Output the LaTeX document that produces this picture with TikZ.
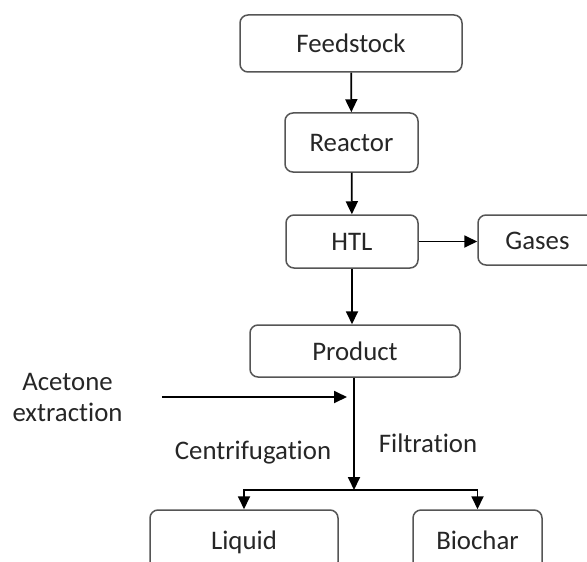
\documentclass[tikz,border=0pt]{standalone}
\usepackage{fontspec}
\setmainfont{Carlito}[Ligatures=NoCommon]
\usepackage{tikz}
\usepackage{xcolor}
\usetikzlibrary{arrows.meta,positioning,calc}
\definecolor{Ink}{HTML}{262626}
\definecolor{Edge}{HTML}{555555}
\tikzset{
  flow/.style={
    rounded corners=4pt,draw=Edge,line width=0.75pt,fill=white,
    align=center,inner sep=0pt,text height=9.6pt,text depth=0.6pt,
    font=\fontsize{13.4}{15.5}\selectfont,text=Ink
  },
  arrow/.style={-{Triangle[length=6.5pt,width=6pt]},line width=0.9pt,draw=black},
  note/.style={
    align=center,inner sep=0pt,
    font=\fontsize{13.4}{15.5}\selectfont,text=Ink
  }
}

\begin{document}
\begin{tikzpicture}[x=0.5pt,y=-0.5pt]
  \clip (0,0) rectangle (587,561);
  \fill[white] (0,0) rectangle (587,561);
  % boxes
  \node[flow,minimum width=111pt,minimum height=28.5pt] (feed) at (351,43.5) {Feedstock};
  \node[flow,minimum width=66.5pt,minimum height=29.5pt] (reactor) at (351.5,142.5) {Reactor};
  \node[flow,minimum width=66pt,minimum height=26.5pt] (htl) at (352,241.5) {HTL};
  \node[flow,minimum width=59.5pt,minimum height=25pt] (gases) at (537.5,240) {Gases};
  \node[flow,minimum width=105pt,minimum height=26pt] (product) at (355,351) {Product};
  \node[flow,minimum width=94pt,minimum height=30pt] (liquid) at (244,540) {Liquid};
  \node[flow,minimum width=64.5pt,minimum height=30pt] (biochar) at (477.5,540) {Biochar};
  % side texts
  \node[note] (acetone) at (67.5,397) {Acetone\\extraction};
  \node[note] (centri) at (253,453) {Centrifugation};
  \node[note] (filter) at (428,443) {Filtration};
  \coordinate (ace-in) at (347,397);
  \coordinate (split) at (354,490);
  % connectors
  \draw[arrow] (feed) -- (reactor);
  \draw[arrow] (reactor) -- (htl);
  \draw[arrow] (htl) -- (htl -| gases.west);
  \draw[arrow] (htl) -- (htl |- product.north);
  \draw[arrow] ([xshift=19.5pt]acetone.east) -- (ace-in);
  \draw[arrow] (split |- product.south) -- (split);
  \draw[arrow] (split) -| (liquid.north);
  \draw[arrow] (split) -| (biochar.north);
\end{tikzpicture}
\end{document}
